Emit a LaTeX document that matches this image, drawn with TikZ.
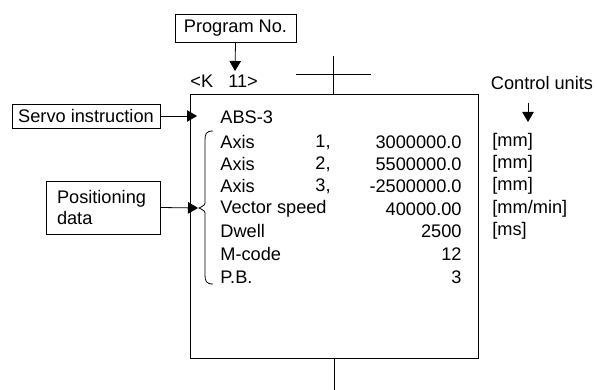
\documentclass[tikz,border=0pt]{standalone}
\usepackage{fontspec}
\setmainfont{Liberation Sans}
\usetikzlibrary{arrows.meta,calc,positioning}

\tikzset{
  lbox/.style = {draw, line width = 0.8pt, inner sep = 0pt},
  txt/.style = {inner sep = 0pt, anchor = west},
  val/.style = {inner sep = 0pt, anchor = east},
  arr/.style = {line width = 0.8pt, -{Triangle[length = 10pt, width = 11.5pt]}}
}

\begin{document}
\begin{tikzpicture}[x = 1pt, y = -1pt, line width = 0.8pt, font = \fontsize{18.2}{22}\selectfont]
        \useasboundingbox (0,0) rectangle (597,390);
        % ladder line
        \path[draw](333,56)to(333,94);
        \path[draw](296,74)to(371,74);
        \path[draw](334,358)to(334,390);
        % program box
        \path[draw](190,94)rectangle(478,358);
        % labels left
        \node[lbox, minimum width = 121pt, minimum height = 28pt](prog)at(235.5,28){Program No.};
        \node[lbox, minimum width = 148pt, minimum height = 24pt](servo)at(86,116){Servo instruction};
        \node[lbox, minimum width = 114pt, minimum height = 53pt, align = left, inner xsep = 11pt, text width = 92pt](posd)at(103,207.5){Positioning\\[-1pt]data};
        \node[txt](kno)at(190,81){<K~~~11>};
        \node(cu)at(542,83){Control units};
        % arrows
        \coordinate(progtip)at(235,71);
        \coordinate(servotip)at(197,116);
        \coordinate(bracetip)at(198,208);
        \coordinate(cutop)at(528,103);
        \coordinate(cutip)at(528,122);
        \path[draw, arr](prog.south)to(progtip);
        \path[draw, arr](servo.east)to(servotip);
        \path[draw, arr](posd.east)to(bracetip);
        \path[draw, arr](cutop)to(cutip);
        % brace
        \path[draw](213,131) .. controls (206,131) and (205,134) .. (205,140)to(205,201)
            .. controls (205,205) .. (199,208) .. controls (205,211) .. (205,215)to(205,275)
            .. controls (205,281) and (206,284) .. (213,284);
        % instruction
        \node[txt](abs)at(220,117){ABS-3};
        % axis 1
        \node[txt](ax1)at(220,142){Axis};
        \node[txt](ax1n)at(315,142){1,};
        \node[val](ax1v)at(462,142){3000000.0};
        \node[txt](ax1u)at(492,142){[mm]};
        % axis 2
        \node[txt](ax2)at(220,164){Axis};
        \node[txt](ax2n)at(315,164){2,};
        \node[val](ax2v)at(462,164){5500000.0};
        \node[txt](ax2u)at(492,164){[mm]};
        % axis 3
        \node[txt](ax3)at(220,186){Axis};
        \node[txt](ax3n)at(315,186){3,};
        \node[val](ax3v)at(462,186){-2500000.0};
        \node[txt](ax3u)at(492,186){[mm]};
        % speed
        \node[txt](vs)at(220,209){Vector speed};
        \node[val](vsv)at(462,209){40000.00};
        \node[txt](vsu)at(492,209){[mm/min]};
        % dwell
        \node[txt](dw)at(220,231){Dwell};
        \node[val](dwv)at(462,231){2500};
        \node[txt](dwu)at(492,231){[ms]};
        % M-code
        \node[txt](mc)at(220,254){M-code};
        \node[val](mcv)at(462,254){12};
        % P.B.
        \node[txt](pb)at(220,277){P.B.};
        \node[val](pbv)at(462,277){3};
    \end{tikzpicture}
\end{document}
